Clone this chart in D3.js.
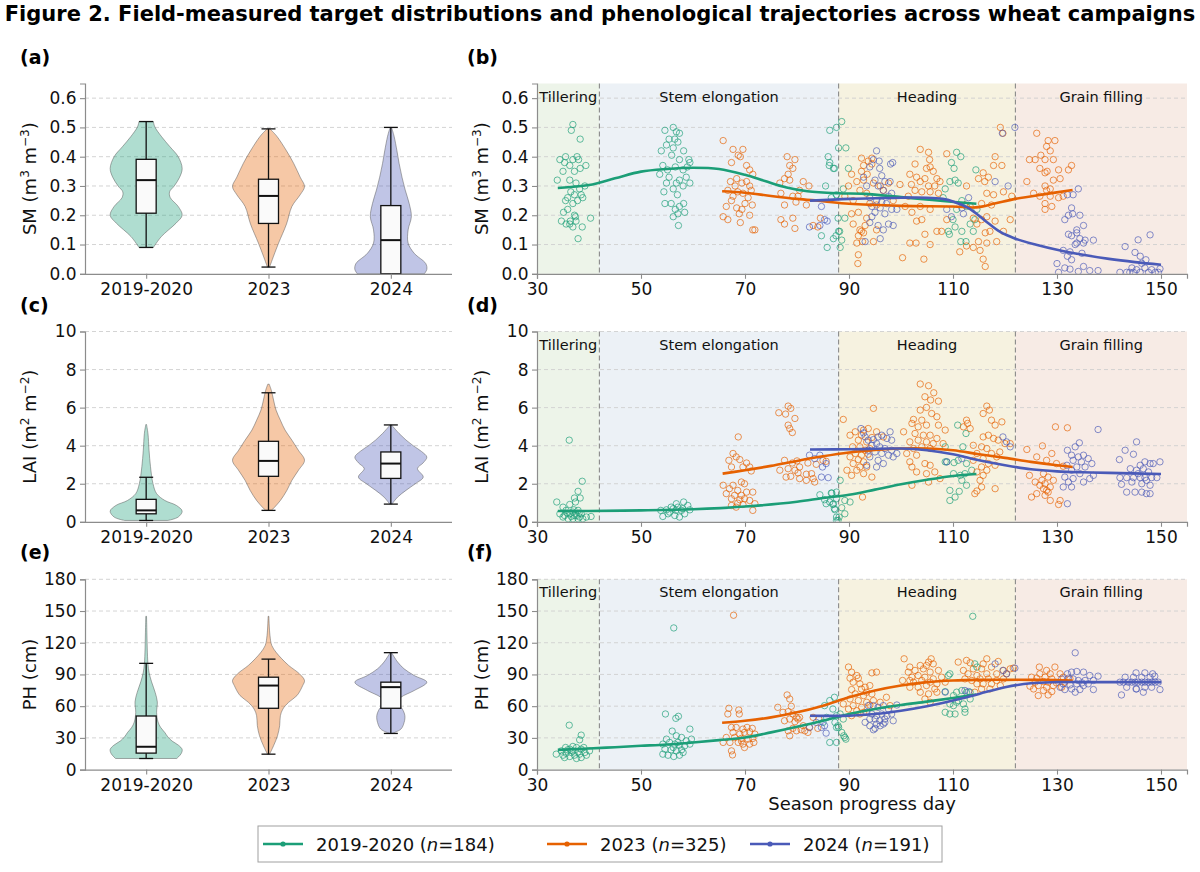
<!DOCTYPE html>
<html>
<head>
<meta charset="utf-8">
<script src="https://cdn.jsdelivr.net/npm/d3@7"></script>
<style>
body { margin: 0; background: #fff; }
svg { font-family: "DejaVu Sans", sans-serif; }
</style>
</head>
<body>
<svg id="fig" width="1200" height="872"></svg>
<script>
// ---- data ----
const campaigns = ["2019-2020", "2023", "2024"];
const sampleCounts = [184, 325, 191];
const phaseNames = ["Tillering", "Stem elongation", "Heading", "Grain filling"];
const phaseEdges = [30, 42, 88, 122, 155];
const dayTicks = [30, 50, 70, 90, 110, 130, 150];
const smTicks = [0, 0.1, 0.2, 0.3, 0.4, 0.5, 0.6];
const laiTicks = [0, 2, 4, 6, 8, 10];
const phTicks = [0, 30, 60, 90, 120, 150, 180];

// box stats: [whisker low, q1, median, q3, whisker high]
const smBox = [[0.09, 0.207, 0.32, 0.391, 0.52], [0.023, 0.172, 0.266, 0.323, 0.495], [0, 0, 0.115, 0.233, 0.50]];
const laiBox = [[0.07, 0.42, 0.6, 1.18, 2.34], [0.6, 2.39, 3.2, 4.23, 6.78], [0.93, 2.28, 3.06, 3.67, 5.09]];
const phBox = [[10.5, 15.6, 21.6, 50.7, 100.5], [14.6, 58, 79.5, 87.4, 104.5], [34.2, 58, 78, 82.7, 110.6]];

// violin outlines: [value, relative density]
const smViolin2019 = [[0.09,0.2],[0.127,0.42],[0.173,0.83],[0.2,1.0],[0.23,0.89],[0.26,0.67],[0.28,0.65],[0.30,0.78],[0.33,0.93],[0.36,1.0],[0.40,0.89],[0.434,0.66],[0.468,0.43],[0.502,0.24],[0.52,0.2]];
const smViolin2023 = [[0.023,0.03],[0.06,0.14],[0.105,0.28],[0.17,0.5],[0.23,0.65],[0.27,0.88],[0.298,1.0],[0.33,0.88],[0.377,0.7],[0.42,0.5],[0.47,0.23],[0.495,0.04]];
const smViolin2024 = [[0,0.93],[0.015,1.0],[0.035,0.97],[0.07,0.65],[0.105,0.48],[0.15,0.48],[0.195,0.57],[0.24,0.51],[0.286,0.4],[0.33,0.31],[0.377,0.23],[0.42,0.17],[0.47,0.09],[0.5,0.02]];
const laiViolin2019 = [[0.07,0.6],[0.25,0.89],[0.56,1.0],[0.86,0.84],[1.12,0.52],[1.48,0.29],[2.0,0.19],[2.9,0.12],[3.76,0.08],[4.64,0.05],[5.11,0.01]];
const laiViolin2023 = [[0.6,0.08],[0.77,0.17],[1.12,0.33],[1.65,0.51],[2.18,0.65],[2.7,0.83],[3.23,1.0],[3.76,0.83],[4.29,0.65],[4.82,0.46],[5.34,0.33],[5.87,0.21],[6.4,0.14],[6.9,0.08],[7.23,0.02]];
const laiViolin2024 = [[0.93,0.03],[1.3,0.19],[1.65,0.42],[2.0,0.68],[2.35,0.9],[2.8,0.74],[3.1,0.9],[3.4,1.0],[3.7,0.85],[4.0,0.62],[4.3,0.42],[4.64,0.23],[5.0,0.06],[5.09,0.02]];
const phViolin2019 = [[10.5,0.85],[15,0.97],[19,1.0],[23,0.9],[27,0.72],[31,0.6],[35,0.52],[40,0.4],[45,0.33],[54,0.29],[64,0.31],[73,0.25],[83,0.15],[92,0.08],[100,0.05],[115,0.03],[130,0.02],[145,0.01]];
const phViolin2023 = [[14.6,0.03],[22.5,0.14],[32,0.25],[41.5,0.31],[51,0.33],[57.3,0.4],[63.7,0.56],[70,0.79],[79.5,0.95],[84.3,1.0],[90.6,0.86],[98.5,0.56],[104.8,0.37],[111,0.21],[117.5,0.09],[127,0.04],[145,0.01]];
const phViolin2024 = [[34.2,0.03],[38.3,0.28],[44.7,0.37],[51,0.39],[57.3,0.32],[63.7,0.17],[68.4,0.28],[74.8,0.65],[82.7,1.0],[89,0.65],[95.3,0.37],[101.7,0.19],[110.6,0.02]];

// field observations: [season day, value]
const smObs2019 = [[36.9,0.51],[36.6,0.49],[38.3,0.46],[35.5,0.40],[36.9,0.39],[37.7,0.40],[38.3,0.36],[38,0.39],[39.4,0.37],[36.3,0.37],[37.2,0.35],[33.9,0.32],[35,0.35],[36.3,0.32],[37.5,0.31],[38.5,0.27],[38.8,0.26],[35.5,0.25],[36.9,0.24],[37.8,0.25],[35.9,0.22],[35.1,0.21],[37.2,0.20],[37.5,0.18],[34.7,0.18],[36.3,0.17],[35.6,0.17],[36.9,0.16],[38.7,0.16],[40.3,0.19],[37.9,0.12],[36.5,0.28],[38.2,0.29],[37.2,0.27],[35.9,0.26],[34.4,0.39],[35.3,0.38],[37.4,0.195],[36.4,0.18],[39.2,0.30],
  [54.6,0.49],[56.2,0.50],[56.8,0.485],[55.4,0.46],[56.5,0.46],[57.4,0.48],[54.9,0.44],[56.2,0.43],[57.1,0.45],[53.9,0.42],[58.2,0.42],[59.2,0.39],[57.4,0.39],[54.2,0.37],[55.1,0.355],[56.6,0.365],[58.1,0.355],[59.4,0.38],[55.4,0.33],[54.9,0.31],[57.4,0.32],[58.7,0.33],[56.8,0.31],[58.1,0.30],[56.2,0.29],[59.4,0.31],[57,0.27],[54.6,0.24],[55.8,0.24],[57.4,0.23],[58.2,0.24],[56.6,0.22],[56.2,0.195],[58.4,0.21],[57.1,0.205],[57.2,0.165],[54.4,0.28],[58.9,0.365],[55.9,0.405],[53.6,0.34],
  [86.3,0.49],[87.6,0.50],[86,0.40],[86.3,0.38],[86.2,0.37],[87.2,0.36],[85.5,0.30],[86.6,0.26],[87.6,0.27],[87.9,0.19],[87,0.12],[85.8,0.09],[84.7,0.13],[88.2,0.145],[88.6,0.52],[88,0.43],[89.4,0.43],[89.9,0.36],[87,0.36],[88.9,0.29],[89.2,0.19],[88,0.145],[88.6,0.115],[88.3,0.09],[87.5,0.13],
  [110.7,0.415],[111.5,0.40],[109.7,0.38],[110.2,0.36],[114.4,0.355],[110.4,0.32],[109.4,0.315],[108.5,0.29],[111,0.31],[108.1,0.26],[111.7,0.25],[110,0.185],[109.1,0.145],[110.4,0.16],[111.7,0.145],[109.3,0.135],[111.5,0.11],[112.5,0.11],[113.9,0.145],[114.2,0.185],[112.6,0.23],[114.6,0.22],[113.3,0.17],[110.7,0.22]];
const smObs2023 = [[65.8,0.455],[67.7,0.425],[69.6,0.425],[68.7,0.405],[69.1,0.40],[67.4,0.38],[70.3,0.37],[70.9,0.355],[71.5,0.34],[68.4,0.325],[67.2,0.315],[68.1,0.30],[69.4,0.31],[70.3,0.315],[70.9,0.30],[66.7,0.285],[68.6,0.28],[69.6,0.275],[71.2,0.285],[67.7,0.265],[70.6,0.26],[66.4,0.23],[68.4,0.225],[69.4,0.22],[71.4,0.235],[65.8,0.195],[66.7,0.185],[68.9,0.205],[70.9,0.20],[69.1,0.175],[71.5,0.15],[71.9,0.15],[67.4,0.25],[70,0.24],
  [78.1,0.40],[79.6,0.39],[78.6,0.37],[79.2,0.36],[77.6,0.325],[76.7,0.31],[78.6,0.32],[78.3,0.34],[80.5,0.285],[76.9,0.275],[79.2,0.265],[79.8,0.245],[77.6,0.235],[81.2,0.315],[80.2,0.265],[76.9,0.185],[77.6,0.17],[79.2,0.19],[79.6,0.155],[82.3,0.30],[81.8,0.235],[83.1,0.165],[84,0.16],[84.5,0.19],
  [92.4,0.395],[94.4,0.375],[92.8,0.37],[92.4,0.35],[93.5,0.34],[90.5,0.34],[91.5,0.315],[92.8,0.32],[94.7,0.31],[96,0.30],[89.9,0.30],[92.1,0.285],[93.4,0.275],[89.2,0.265],[90.8,0.25],[94,0.24],[95.3,0.235],[90.5,0.205],[91.8,0.21],[93.4,0.19],[90.8,0.17],[92.1,0.15],[92.4,0.145],[92.8,0.14],[91.8,0.13],[93.1,0.165],[95.3,0.15],[91.5,0.105],[91.8,0.065],[91.7,0.035],[92.6,0.11],[94.7,0.11],[96.6,0.285],[98.5,0.25],[94.4,0.395],[93.7,0.385],[97.6,0.31],
  [103.7,0.425],[105.3,0.415],[105.5,0.39],[102.7,0.375],[105.6,0.365],[104.9,0.36],[106.2,0.35],[108.8,0.41],[101.7,0.34],[103,0.33],[104.6,0.325],[106.9,0.325],[107.5,0.315],[103.7,0.315],[102,0.305],[105.3,0.30],[106.5,0.30],[102.7,0.285],[104,0.28],[105.6,0.28],[107.2,0.275],[101.4,0.265],[99.8,0.305],[100.8,0.23],[102.1,0.21],[103.7,0.23],[105.6,0.22],[103,0.18],[104,0.185],[104.6,0.135],[106.9,0.145],[107.8,0.145],[101.7,0.105],[102.9,0.105],[105.6,0.10],[100.3,0.055],[104.4,0.05],[108.8,0.185],
  [119.1,0.50],[119.6,0.48],[118.1,0.40],[117.8,0.37],[119.4,0.37],[115.8,0.345],[116.8,0.33],[114.9,0.325],[116.1,0.315],[112.6,0.30],[116.5,0.275],[117.8,0.27],[119.7,0.28],[121.3,0.265],[112.3,0.235],[113.3,0.23],[115.5,0.24],[117.4,0.235],[113.9,0.19],[115.5,0.185],[116.5,0.195],[118.1,0.18],[121,0.185],[114.6,0.17],[116.2,0.14],[117.1,0.145],[119.7,0.145],[118.4,0.11],[114.9,0.11],[112.6,0.095],[113.9,0.09],[115.2,0.08],[115.8,0.05],[116.2,0.025],[111.3,0.075],[116.5,0.105],
  [126.1,0.48],[128.3,0.455],[129.6,0.455],[128,0.435],[128.7,0.42],[126.9,0.405],[124.7,0.39],[125.8,0.39],[127.7,0.39],[129.3,0.39],[126.7,0.36],[128.1,0.35],[130.3,0.355],[132.2,0.355],[132.8,0.37],[127.7,0.345],[124.2,0.315],[129.3,0.32],[130.6,0.325],[127.7,0.30],[128.7,0.29],[128,0.285],[125.5,0.275],[126.7,0.265],[128.7,0.265],[130.3,0.26],[127.7,0.24],[129,0.23],[127.7,0.22],[131.2,0.265]];
const smObs2024 = [[82.4,0.16],[84.7,0.23],[85.3,0.185],[85.8,0.18],[84.4,0.165],
  [95.3,0.42],[94.7,0.39],[95.8,0.385],[98,0.375],[98.4,0.38],[94,0.365],[95.9,0.36],[92.8,0.33],[96.3,0.335],[95,0.32],[96.9,0.315],[97.9,0.315],[93.4,0.30],[95.6,0.30],[96.6,0.285],[98.2,0.275],[94,0.26],[95.3,0.25],[96.3,0.245],[97.2,0.24],[94.4,0.23],[96,0.225],[98.2,0.22],[99.2,0.22],[95,0.21],[96.9,0.205],[94,0.175],[95.6,0.165],[97.6,0.17],[98.5,0.165],[96,0.12],[93.1,0.11],[96.6,0.15],[94.4,0.195],[97.6,0.265],
  [108.8,0.22],[113,0.26],[111.7,0.225],[112,0.205],[109.7,0.195],[119.5,0.48],[121.9,0.50],[118.1,0.315],[120.6,0.30],
  [134.1,0.29],[133.1,0.27],[132,0.27],[132.8,0.225],[133,0.205],[132.2,0.20],[134.4,0.20],[131.5,0.185],[135.1,0.165],[133.8,0.15],[132.2,0.135],[132.8,0.13],[134.4,0.12],[135.4,0.115],[133.8,0.105],[137,0.115],[135.1,0.105],[131.2,0.08],[132.5,0.075],[133.5,0.10],[134.8,0.07],[132,0.06],[132.8,0.048],[130,0.035],[131.5,0.02],[132.5,0.016],[134.1,0.008],[135.1,0.025],[136.3,0.011],[137.9,0.011],[130.3,0.005],[133.8,0.14],
  [147.9,0.133],[145.6,0.116],[143.1,0.093],[145,0.073],[146,0.06],[147.1,0.048],[146.3,0.036],[144.4,0.02],[145.3,0.014],[146.9,0.02],[148.2,0.014],[149.8,0.017],[142.1,0.005],[143.4,0.005],[144.7,0.005],[146,0.005],[147.6,0.005],[148.9,0.005],[149.5,0.005],[144,0.005]];

const laiObs2019 = [[33.8,1.04],[36.2,4.29],[38.7,2.13],[37.9,1.6],[37.2,1.25],[38.3,1.25],[36.3,0.91],[35,0.77],[37.4,1.04],[35.6,0.6],[36.9,0.51],[37.9,0.6],[34.4,0.42],[35.3,0.33],[36.3,0.42],[37.2,0.33],[38.5,0.42],[36,0.16],[36.9,0.16],[37.9,0.16],[39.5,0.25],[40.4,0.28],[35,0.25],[36.6,0.28],[37.6,0.33],[38.2,0.25],[38.8,0.16],[35.8,0.46],[37.1,0.63],[38.1,0.46],
  [54.2,0.28],[54.9,0.63],[55.5,0.51],[56.2,0.69],[56.8,0.95],[57.1,0.77],[57.8,0.6],[58.2,1.04],[59,0.86],[59.4,0.63],[55.2,0.42],[56.5,0.33],[57.4,0.25],[58.4,0.42],[55.8,0.77],[53.8,0.6],[56.7,0.6],[58,0.69],
  [84.4,1.42],[86.6,1.51],[87.6,1.56],[85.3,1.16],[86.3,1.04],[86.9,0.91],[87.2,0.69],[87.6,0.25],[87.9,0.07],[85.6,0.95],[88.3,2.18],[86.7,1.51],[87.6,1.21],[89.2,1.12],[90.2,1.04],[87,0.95],[88.6,0.74],[87.3,0.63],[89.2,0.42],[88.1,0.25],[87.6,0.07],
  [110.9,5.08],[112.5,4.64],[108.5,3.94],[108.8,3.15],[110.2,3.11],[111,3.23],[111.9,3.94],[112.6,3.06],[110.1,2.53],[111.4,2.44],[112.3,2.53],[113.6,2.71],[111.7,2.18],[112.6,1.92],[109.4,1.65],[111.2,1.6],[109.4,1.12],[110.4,1.3],[108.5,3.15]];
const laiObs2023 = [[68.7,4.46],[67.7,3.59],[68.3,3.41],[66.9,3.23],[69,3.27],[70.3,3.09],[70.9,2.88],[67.4,2.88],[69.6,2.88],[71.2,2.67],[65.8,1.92],[67.7,1.92],[69.3,2.09],[69.9,2],[67,1.74],[68.6,1.65],[70.3,1.56],[71.5,1.56],[66.4,1.48],[68,1.39],[69.3,1.39],[67.4,1.21],[69,1.16],[69.9,1.21],[70.9,1.12],[71.9,0.95],[68.6,0.98],[69.6,0.91],[71.5,0.6],[68.3,0.77],[67.4,0.86],
  [78.3,6.08],[78.8,5.96],[76.5,5.73],[77.8,5.66],[79.6,5.43],[78.3,5.08],[78.6,4.9],[79.1,4.69],[77.6,3.23],[79.1,3.09],[80,3.2],[80.5,2.88],[78.3,2.79],[79.6,2.71],[80.2,2.57],[76.7,2.71],[78.8,2.39],[77.9,2.35],[81.8,2.5],[82.8,2.53],[83.1,2.27],[81.8,2.18],[83.4,2.09],[80.5,2.27],[83.7,3.02],[85,3.23],[85.6,3.18],[82.1,3.09],
  [88.9,5.38],[94.7,5.96],[90.2,4.55],[91.2,4.73],[92.8,4.82],[93.7,4.9],[92.4,4.55],[94.4,4.43],[91.8,4.29],[93.4,4.2],[90.7,3.94],[92.1,3.94],[93.1,3.76],[94,3.85],[91.2,3.59],[92.4,3.5],[93.7,3.55],[90.2,3.41],[91.8,3.27],[92.8,3.15],[90.8,3.06],[92.1,2.88],[93.4,2.88],[89.6,2.71],[91.5,2.71],[92.8,2.53],[90.5,2.44],[94.4,2.35],[92.6,1.3],[95.3,4.73],[96.6,4.46],
  [103.7,7.24],[105.3,7.15],[106.3,6.78],[104.6,6.57],[105.7,6.4],[107.2,6.34],[103.7,5.87],[104.9,6.01],[105.9,5.69],[102.4,5.38],[104,5.34],[106.9,5.52],[102.1,5.17],[103.3,4.99],[104.9,5.08],[107.2,5.08],[108.5,4.82],[100.5,4.73],[102.7,4.64],[104.3,4.55],[105.6,4.55],[106.9,4.38],[101.7,4.2],[103.3,4.29],[104.9,4.2],[106.2,4.11],[108.1,4.11],[102.4,3.85],[104,3.94],[105.6,3.85],[101.1,3.59],[103,3.5],[104.6,3.06],[105.6,2.97],[101.7,3.15],[102.1,2.88],[103,2.62],[104.9,2.53],[106.5,2.62],[102.1,1.92],[105.3,2.09],[107.5,2.27],
  [116.5,6.08],[115.8,5.69],[117,5.87],[117.4,5.34],[119.4,5.25],[112.6,5.34],[112.8,5.17],[112,4.99],[113.3,4.9],[118.1,5.08],[115.8,4.46],[116.8,4.55],[117.8,4.38],[118.7,4.29],[113.9,4.02],[115.5,3.94],[116.5,3.85],[120,4.11],[121,4.11],[114.6,3.59],[117.4,3.59],[119,3.67],[118.4,3.41],[115.8,3.32],[113.9,3.23],[116.8,3.06],[118.1,2.97],[115.5,2.88],[116.5,2.71],[114.6,2.62],[115.8,2.44],[115.2,2.18],[118.1,1.74],[114.6,1.62],[114.2,1.48],[115.5,1.83],
  [129.7,4.99],[132,4.94],[127.2,3.99],[124.2,3.8],[129,3.59],[126.1,3.41],[128,3.23],[129.9,3.06],[131.2,2.92],[124.7,2.44],[125.8,2.09],[127.4,2.53],[128.3,2.35],[126.7,1.92],[127.7,2],[128.7,1.83],[127.4,1.74],[128.3,1.56],[126.1,1.48],[127.7,1.39],[125.1,1.3],[128.7,1.12],[130.6,1.12],[130.3,0.91],[128,1.65],[129.3,2.18],[127.1,2.18]];
const laiObs2024 = [[82.4,3.5],[84.4,3.5],[85.6,3.06],[84.9,2.88],[84.7,2.35],[86,2.32],[83.4,3.32],
  [92.3,4.9],[92.8,4.67],[93.1,4.46],[93.7,4.29],[94.7,4.32],[95.6,4.46],[96.3,4.55],[97.3,4.38],[97.9,4.73],[98.2,4.29],[94.4,4.02],[95.3,4.11],[95.9,3.94],[96.9,3.85],[98.2,3.76],[93.7,3.76],[95,3.67],[96.3,3.59],[97.6,3.5],[99.2,3.59],[94,3.41],[95.6,3.23],[96.6,3.06],[93.4,2.97],[95.3,2.88],[98.5,3.41],
  [108.8,3.15],[111.7,3.32],[120.3,4.2],[121,3.94],[119.6,4.46],
  [137.9,4.85],[134.3,4.15],[132,3.76],[133.5,3.94],[132.8,3.5],[134.1,3.41],[135.1,3.5],[136,3.32],[133.1,3.23],[134.7,3.15],[136.7,3.06],[131.9,2.97],[133.8,2.88],[135.4,2.88],[132.8,2.71],[134.4,2.53],[137,2.44],[131.5,2.35],[133.1,2.27],[132.2,2.09],[135.1,2.09],[131.2,1.83],[132.8,1.83],[132,0.95],[136.3,2.27],
  [145.3,4.2],[143.1,3.76],[144.7,3.55],[142,3.27],[146.9,3.15],[147.9,3.06],[148.5,3.06],[149.8,3.15],[146,2.97],[144.1,2.79],[145.3,2.71],[146.6,2.79],[147.6,2.62],[142.1,2.32],[143.4,2.32],[144.7,2.32],[146,2.32],[146.9,2.32],[148.2,2.32],[149.2,2.32],[142.4,1.97],[144.4,2.09],[146.3,2],[147.9,1.92],[143.4,1.56],[145,1.56],[146.3,1.56],[147.2,1.48],[147.9,1.48],[145.6,2.53],[147.2,2.18]];

const phObs2019 = [[36.2,42],[38.5,32.6],[38.2,28.2],[33.7,14.6],[34.7,17.7],[35.5,20.9],[36.3,19.3],[36.9,21.9],[37.6,20.9],[38.5,19.3],[35.6,15.5],[36.6,16.2],[37.2,13.6],[38.2,14.6],[39.2,16.2],[40.1,17.7],[35.3,11.4],[36.3,12.4],[37.6,10.5],[38.5,11.4],[36.9,17.7],[37.9,16.8],[35.9,18.7],[39,20.9],[35,13.6],[39.5,13.6],
  [56.3,134],[54.7,52.6],[56.7,48.5],[57.2,50.4],[56,36.4],[59.4,38.3],[54.9,28.8],[56.8,32],[57.8,30.4],[58.7,27.2],[59.7,28.8],[54.2,24.1],[55.5,25.7],[56.5,24.1],[57.4,23.1],[58.4,22.5],[59.4,24.1],[54.6,19.3],[55.8,18.7],[56.8,17.7],[57.8,18.7],[54.2,14.6],[55.2,13.6],[56.3,12.4],[57.4,13.6],[58.1,16.2],[56.2,20.9],[57.1,25.7],
  [87.2,68.4],[86.3,65.3],[85.3,60.5],[86.9,57.3],[87.6,51],[85.7,49.4],[85,44.7],[87.9,41.5],[87.6,39.9],[86.3,25.7],[88,39.9],[88.9,47.8],[87.3,44.7],[88.6,35.2],[89.2,30.4],[88.3,52.6],[87.6,25.7],[89,32],[89.4,28.8],
  [113.8,145],[109.1,89],[109.4,90.6],[114.2,100],[114.6,97],[108.5,73.8],[110.7,73.2],[111.7,74.8],[112.6,73.2],[113.3,73.2],[110.1,70],[109.4,62.1],[110.7,63.7],[112,62.1],[111,65.3],[112.3,57.3],[110.1,60.5],[108.5,54.2],[109.4,52.6],[110.4,52.6],[112.3,54.2],[113.3,66.8]];
const phObs2023 = [[67.8,146],[66.9,58],[68.8,56.4],[68.9,52.6],[66.7,52.6],[67.4,39.9],[68.3,39.9],[69.6,38.3],[70.4,39.9],[71.4,39],[67.7,35.2],[69,33.6],[69.9,35.2],[70.9,35.8],[71.9,33.6],[66.4,30.4],[68,30.4],[69.3,29.5],[70.6,28.8],[71.5,29.5],[65.8,25.7],[67.1,25.7],[68.7,25.7],[69.6,24.1],[70.9,24.1],[71.7,25.7],[69.9,20.9],[67.4,17.7],[67.6,13.9],[69.3,27.2],
  [78.1,70.6],[78.6,66.8],[78.9,59.9],[76.3,58.9],[77.3,54.2],[78.3,54.8],[79.2,52.6],[79.9,49.4],[80.5,49.4],[77.6,46.2],[78.6,47.8],[79.6,45.3],[80.2,47.8],[81.2,41.5],[79.2,39],[78.3,36.7],[79.9,36.7],[80.8,37.7],[82.4,39.9],[82.1,35.2],[83.1,49.4],[84,39],[84.2,47.8],[78.6,32],[81.5,36.7],
  [89.9,97],[90.5,92.2],[91.5,89],[91.8,86.5],[94.4,91.5],[95.3,92.2],[90.2,86.5],[90.8,82.7],[92.1,81.1],[93.1,77.9],[94,79.5],[90.5,75.7],[92.4,76.3],[93.4,73.2],[91.2,71.6],[92.8,70],[94.4,71.6],[90.2,66.8],[91.8,65.3],[93.4,63.7],[94.7,65.3],[88.9,62.1],[90.8,60.5],[92.4,58.9],[94,61.1],[89.9,57.3],[91.5,55.7],[92.8,54.2],[92.1,52.6],[90.5,51],[96,63.7],[97.2,68.4],[97.9,60.5],
  [100.6,104.8],[105.8,104.8],[105.3,101.7],[101.7,97],[103.7,98.5],[104.9,98.5],[106.2,100],[101.4,92.2],[102.7,93.8],[104.3,95.3],[105.6,92.2],[107.2,93.8],[100.3,84.3],[102.1,87.4],[103.3,89],[104.6,87.4],[106.2,85.8],[107.8,87.4],[102.4,82.7],[104,84.3],[105.6,82.7],[106.9,81.1],[108.5,82.7],[101.7,77.9],[103.3,77.9],[104.9,79.5],[106.5,76.3],[103.7,73.2],[105.3,71.6],[106.9,73.2],[104.6,66.8],[105.6,63.7],[101.7,84.3],
  [111,101.7],[112.6,103.3],[113.3,101],[115.8,100],[116.5,104.8],[118.7,102.3],[121,95.3],[121.6,96],[112,93.8],[113.9,95.3],[115.5,95.3],[117.4,97],[119.7,93.8],[112.9,90.6],[114.6,89],[116.5,90.6],[118.4,90.6],[120.3,90.6],[112.3,85.8],[113.6,84.3],[115.2,85.8],[116.8,85.8],[118.4,84.3],[119.7,85.8],[114.6,81.1],[115.8,81.1],[117.4,81.1],[119.1,79.5],[115.5,76.3],[117.1,76.3],[114.2,73.2],
  [126.6,97],[129.6,97],[128,93.8],[126.7,90.6],[128.7,90.6],[130.6,90.6],[125.1,87.4],[126.1,86.5],[127.7,87.4],[129,85.8],[131.2,87.4],[125.8,82.7],[127.4,83.3],[128.3,82.7],[129.9,82],[131.5,82.7],[126.4,79.5],[128,77.9],[129.3,79.5],[130.9,77.9],[125.5,76.3],[127.4,74.8],[129,73.8],[126.4,70],[128.3,70.6],[132.5,85.8],[124.8,78.9]];
const phObs2024 = [[82.4,39.9],[84.7,39.9],[85.3,41.5],[85.6,34.5],[83.7,44.7],
  [93.7,60.5],[94.7,60.5],[95.6,58.9],[96.6,60.5],[97.6,57.3],[99.2,61.1],[93.4,54.2],[94.4,52.6],[95.3,51],[96.3,52.6],[97.3,51],[98.2,52.6],[94,47.8],[95,47.8],[95.9,46.2],[96.9,47.8],[98.5,46.2],[93.1,44.7],[95.3,43.1],[96.6,43.1],[94,41.5],[95,39],[94.7,37.7],[96,41.5],[96.9,44.7],
  [108.5,73.2],[112.3,74.8],[113,73.8],[118.1,100],[119.6,93.8],[121.9,96],[120.3,90.6],
  [133.5,110.5],[132,90.6],[132.8,92.2],[133.8,92.8],[135.1,92.2],[136.3,89],[137.9,88.4],[130.9,85.8],[132.2,86.5],[133.1,85.8],[134.1,84.3],[135.4,84.3],[137,84.3],[131.2,81.1],[132.5,80.1],[133.8,81.1],[134.8,82],[136,81.1],[131.5,75.7],[132.8,76.3],[134.4,75.7],[137,75.7],[130.6,77.9],[135.1,79.5],[133.5,73.2],
  [145.2,91.5],[146.9,91.5],[148.4,90.6],[143.1,87.4],[144.7,87.4],[146.3,87.4],[147.9,87.4],[148.8,88.4],[142.1,82.7],[142.8,82.7],[143.7,82.7],[144.4,82.7],[145,82.7],[145.6,82.7],[146.3,82.7],[146.9,82.7],[147.6,82.7],[148.2,82.7],[148.9,82.7],[149.5,82.7],[143.4,77.9],[145.3,76.3],[146.9,77.9],[148.2,77.9],[149.8,75.7],[142.4,70.6],[146.6,73.2],[145.2,76.3]];

// smoothed trajectories: [season day, value]
const smTrend2019 = [[34,0.293],[40,0.303],[45,0.326],[50,0.349],[55,0.358],[60,0.362],[65,0.358],[70,0.338],[74,0.316],[78,0.295],[82,0.282],[88,0.275],[93,0.273],[100,0.262],[106,0.252],[114.5,0.239]];
const smTrend2023 = [[65.6,0.282],[70,0.277],[75,0.266],[80,0.256],[85,0.248],[90,0.239],[100,0.232],[110,0.23],[114.5,0.227],[118,0.24],[122,0.256],[128,0.273],[133,0.286]];
const smTrend2024 = [[82.5,0.25],[90,0.256],[95,0.258],[100,0.26],[105,0.26],[108,0.256],[110,0.247],[113,0.224],[116,0.184],[119,0.144],[122,0.12],[126,0.099],[130,0.082],[135,0.065],[140,0.051],[145,0.04],[150,0.031]];
const laiTrend2019 = [[34,0.57],[40,0.57],[50,0.6],[60,0.66],[70,0.8],[80,1.05],[85,1.25],[90,1.42],[95,1.69],[100,1.97],[105,2.21],[110,2.41],[114.5,2.51]];
const laiTrend2023 = [[65.7,2.53],[70,2.71],[75,2.94],[80,3.2],[85,3.44],[90,3.64],[95,3.78],[100,3.85],[105,3.85],[110,3.76],[115,3.55],[120,3.36],[125,3.15],[130,2.97],[133,2.88]];
const laiTrend2024 = [[82.5,3.8],[90,3.81],[100,3.85],[105,3.76],[110,3.55],[115,3.23],[120,2.97],[125,2.76],[130,2.65],[135,2.6],[140,2.57],[150,2.51]];
const phTrend2019 = [[34,18.7],[40,20],[45,21.2],[50,22.5],[55,23.8],[60,25.7],[65,27.9],[70,30.4],[75,35.2],[80,40.5],[85,46.2],[90,52.6],[95,57.3],[100,61.1],[105,64.3],[110,67.8],[114.5,71]];
const phTrend2023 = [[65.6,44.3],[70,46.2],[75,49.4],[80,54.2],[85,60.5],[90,68.4],[95,74.8],[100,79.5],[105,82.7],[110,84.3],[115,84.9],[120,84.9],[125,84.9],[130,84.6],[133,84.3]];
const phTrend2024 = [[82.5,51],[90,51],[95,52.6],[100,55.7],[105,59.9],[110,65.3],[115,71.6],[120,77.9],[125,81.7],[130,82.7],[140,82.7],[150,82.7]];

// ---- styling and layout ----
const colors = ["#1b9e77", "#e66101", "#4a5ab8"];
const phaseFills = ["#edf4e9", "#ecf1f6", "#f6f2e0", "#f7ebe5"];
const axisGrey = "#8c8c8c";
const fontFamily = "'DejaVu Sans', sans-serif";
const leftX = [85, 452], rightX = [537, 1187];
const rowTop = [83.5, 331.5, 579.3], rowH = 190.3;
const violinHalf = 36;

const rows = [
    {tag: ["(a)", "(b)"], ylab: ["SM (m", "3", " m", "\u22123", ")"], ymax: 0.65, ticks: smTicks, fmt: d3.format(".1f"),
     box: smBox, violins: [smViolin2019, smViolin2023, smViolin2024],
     obs: [smObs2019, smObs2023, smObs2024], trend: [smTrend2019, smTrend2023, smTrend2024]},
    {tag: ["(c)", "(d)"], ylab: ["LAI (m", "2", " m", "\u22122", ")"], ymax: 10, ticks: laiTicks, fmt: d3.format("d"),
     box: laiBox, violins: [laiViolin2019, laiViolin2023, laiViolin2024],
     obs: [laiObs2019, laiObs2023, laiObs2024], trend: [laiTrend2019, laiTrend2023, laiTrend2024]},
    {tag: ["(e)", "(f)"], ylab: ["PH (cm)"], ymax: 180, ticks: phTicks, fmt: d3.format("d"),
     box: phBox, violins: [phViolin2019, phViolin2023, phViolin2024],
     obs: [phObs2019, phObs2023, phObs2024], trend: [phTrend2019, phTrend2023, phTrend2024]}
];

let svg = d3.select("#fig");

svg.append("text")
    .attr("x", 600).attr("y", 21)
    .attr("text-anchor", "middle")
    .style("font-size", "21px").style("font-weight", "bold")
    .text("Figure 2. Field-measured target distributions and phenological trajectories across wheat campaigns");

function styleAxis(g) {
    g.attr("font-family", fontFamily);
    g.select(".domain").attr("stroke", axisGrey).attr("stroke-width", 1.2);
    g.selectAll(".tick line").attr("stroke", axisGrey).attr("stroke-width", 1.1);
    g.selectAll(".tick text").attr("fill", "#111").style("font-size", "17px");
}

function yLabel(x, yMid, parts) {
    let t = svg.append("text")
        .attr("transform", "translate(" + x + "," + yMid + ") rotate(-90)")
        .attr("text-anchor", "middle")
        .style("font-size", "18px").attr("fill", "#111");
    parts.forEach(function(p, i) {
        let s = t.append("tspan").text(p);
        if (i % 2 == 1) s.attr("dy", -7).style("font-size", "12px");
        else if (i > 0) s.attr("dy", 7);
    });
}

function gridLines(g, y, ticks, x0, x1) {
    g.selectAll(".grid")
        .data(ticks.filter(function(d) { return d > 0; }))
        .enter().append("line")
        .attr("x1", x0).attr("x2", x1)
        .attr("y1", function(d) { return y(d); })
        .attr("y2", function(d) { return y(d); })
        .attr("stroke", "#cfcfcf").attr("stroke-width", 0.9)
        .attr("stroke-dasharray", "4,3");
}

rows.forEach(function(row, r) {
    let top = rowTop[r], bottom = top + rowH;
    let y = d3.scaleLinear().domain([0, row.ymax]).range([bottom, top]);

    // ---------- left: violins ----------
    let gl = svg.append("g");
    let xc = d3.scalePoint().domain(campaigns).range(leftX).padding(0.5);
    gridLines(gl, y, row.ticks, leftX[0], leftX[1]);

    let area = d3.area()
        .curve(d3.curveCatmullRom)
        .y(function(d) { return y(d[0]); });

    campaigns.forEach(function(c, i) {
        let cx = xc(c);
        area.x0(function(d) { return cx - d[1] * violinHalf; })
            .x1(function(d) { return cx + d[1] * violinHalf; });
        gl.append("path")
            .datum(row.violins[i])
            .attr("d", area)
            .attr("fill", colors[i]).attr("fill-opacity", 0.35)
            .attr("stroke", "#555").attr("stroke-opacity", 0.55).attr("stroke-width", 0.9);

        let b = row.box[i];
        gl.append("line").attr("x1", cx).attr("x2", cx).attr("y1", y(b[0])).attr("y2", y(b[4]))
            .attr("stroke", "#111").attr("stroke-width", 1.3);
        [b[0], b[4]].forEach(function(v) {
            gl.append("line").attr("x1", cx - 7).attr("x2", cx + 7).attr("y1", y(v)).attr("y2", y(v))
                .attr("stroke", "#111").attr("stroke-width", 1.3);
        });
        gl.append("rect")
            .attr("x", cx - 10).attr("width", 20)
            .attr("y", y(b[3])).attr("height", y(b[1]) - y(b[3]))
            .attr("fill", "#fafafa").attr("stroke", "#111").attr("stroke-width", 1.3);
        gl.append("line").attr("x1", cx - 10).attr("x2", cx + 10).attr("y1", y(b[2])).attr("y2", y(b[2]))
            .attr("stroke", "#111").attr("stroke-width", 2);
    });

    gl.append("g").attr("transform", "translate(" + leftX[0] + ",0)")
        .call(d3.axisLeft(y).tickValues(row.ticks).tickFormat(row.fmt).tickSize(5).tickPadding(3.5))
        .call(styleAxis);
    gl.append("g").attr("transform", "translate(0," + bottom + ")")
        .call(d3.axisBottom(xc).tickSize(5).tickPadding(4))
        .call(styleAxis)
        .call(function(g) { g.select(".domain").attr("d", "M" + leftX[0] + ",0.5H" + leftX[1]); });

    // ---------- right: trajectories ----------
    let gr = svg.append("g");
    let x = d3.scaleLinear().domain([phaseEdges[0], phaseEdges[4]]).range(rightX);

    gr.selectAll(".phase")
        .data(phaseNames)
        .enter().append("rect")
        .attr("x", function(d, i) { return x(phaseEdges[i]); })
        .attr("width", function(d, i) { return x(phaseEdges[i + 1]) - x(phaseEdges[i]); })
        .attr("y", top).attr("height", rowH)
        .attr("fill", function(d, i) { return phaseFills[i]; });

    gridLines(gr, y, row.ticks, rightX[0], rightX[1]);

    gr.selectAll(".phase-edge")
        .data(phaseEdges.slice(1, 4))
        .enter().append("line")
        .attr("x1", function(d) { return x(d); }).attr("x2", function(d) { return x(d); })
        .attr("y1", top).attr("y2", bottom)
        .attr("stroke", "#8a8a8a").attr("stroke-width", 1.1).attr("stroke-dasharray", "5,3");

    let clipId = "clip" + r;
    svg.append("clipPath").attr("id", clipId)
        .append("rect").attr("x", rightX[0]).attr("y", top)
        .attr("width", rightX[1] - rightX[0]).attr("height", rowH);

    let plot = gr.append("g").attr("clip-path", "url(#" + clipId + ")");

    row.obs.forEach(function(pts, i) {
        plot.selectAll(".pt" + i)
            .data(pts)
            .enter().append("circle")
            .attr("cx", function(d) { return x(d[0]); })
            .attr("cy", function(d) { return y(d[1]); })
            .attr("r", 3.2)
            .attr("fill", "none")
            .attr("stroke", colors[i]).attr("stroke-opacity", 0.75).attr("stroke-width", 0.9);
    });

    let line = d3.line()
        .curve(d3.curveCatmullRom)
        .x(function(d) { return x(d[0]); })
        .y(function(d) { return y(d[1]); });

    row.trend.forEach(function(tr, i) {
        plot.append("path").datum(tr)
            .attr("d", line)
            .attr("fill", "none")
            .attr("stroke", colors[i]).attr("stroke-width", 2.6);
    });

    gr.selectAll(".phase-label")
        .data(phaseNames)
        .enter().append("text")
        .attr("x", function(d, i) { return x((phaseEdges[i] + phaseEdges[i + 1]) / 2); })
        .attr("y", top + 18)
        .attr("text-anchor", "middle")
        .style("font-size", "14.5px").attr("fill", "#111")
        .text(function(d) { return d; });

    gr.append("g").attr("transform", "translate(" + rightX[0] + ",0)")
        .call(d3.axisLeft(y).tickValues(row.ticks).tickFormat(row.fmt).tickSize(5).tickPadding(3.5))
        .call(styleAxis);
    gr.append("g").attr("transform", "translate(0," + bottom + ")")
        .call(d3.axisBottom(x).tickValues(dayTicks).tickFormat(d3.format("d")).tickSize(5).tickPadding(4))
        .call(styleAxis);

    // labels
    svg.append("text").attr("x", 20).attr("y", top - 20)
        .style("font-size", "19px").style("font-weight", "bold").text(row.tag[0]);
    svg.append("text").attr("x", 467).attr("y", top - 20)
        .style("font-size", "19px").style("font-weight", "bold").text(row.tag[1]);
    yLabel(36, (top + bottom) / 2, row.ylab);
    yLabel(488, (top + bottom) / 2, row.ylab);
});

svg.append("text")
    .attr("x", (rightX[0] + rightX[1]) / 2).attr("y", 810)
    .attr("text-anchor", "middle")
    .style("font-size", "18px").attr("fill", "#111")
    .text("Season progress day");

// ---------- legend ----------
const legendX = [263, 547, 750];
let legend = svg.append("g");
legend.append("rect")
    .attr("x", 258).attr("y", 826).attr("width", 684).attr("height", 36)
    .attr("fill", "#fff").attr("stroke", "#a0a0a0").attr("stroke-width", 1);

campaigns.forEach(function(c, i) {
    let lx = legendX[i];
    legend.append("line")
        .attr("x1", lx).attr("x2", lx + 40).attr("y1", 844).attr("y2", 844)
        .attr("stroke", colors[i]).attr("stroke-width", 2.6);
    legend.append("circle")
        .attr("cx", lx + 20).attr("cy", 844).attr("r", 2.6)
        .attr("fill", colors[i]);
    let t = legend.append("text")
        .attr("x", lx + 53).attr("y", 850.5)
        .style("font-size", "18px").attr("fill", "#111");
    t.append("tspan").text(c + " (");
    t.append("tspan").style("font-style", "italic").text("n");
    t.append("tspan").text("=" + sampleCounts[i] + ")");
});
</script>
</body>
</html>
